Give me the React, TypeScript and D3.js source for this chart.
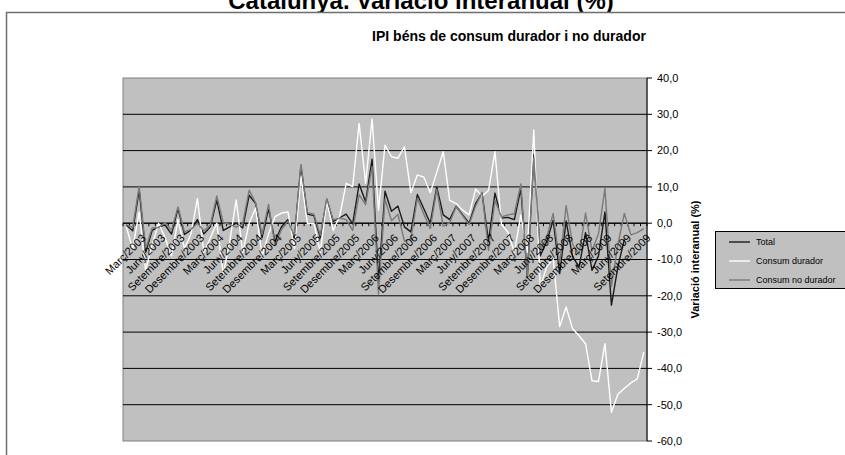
import React from "react";
import * as d3 from "d3";

const monthNames = ["Gener","Febrer","Març","Abril","Maig","Juny","Juliol","Agost","Setembre","Octubre","Novembre","Desembre"];
const categories: string[] = [];
for (let y = 2003; y <= 2009; y++) for (let m = 0; m < 12; m++) if (categories.length < 81) categories.push(`${monthNames[m]}/${y}`);

const total: (number | null)[] = [
  -0.5, -2.1, 9.1, -8, -2, -1, -0.5, -3, 4, -3.1, -1.9, 1,
  -3, -1, 6.4, -2, -1, 0, -1.3, 7.7, 5.4, -4, 4, -5,
  -1, 1, -4, 15.7, 2.5, 2.1, -4, 6.6, 0.5, 1.5, 2.5, -0.2,
  10.8, 5.9, 17.6, -16, 8.8, 3.3, 4.7, -1, -2.4, 7.9, 4, 0,
  10, 2.3, 1, 4.7, 2.3, 0, 5.4, 8.3, -5, 8.3, 1.4, 1.6,
  1.0, 9.5, -14.8, 19, -9, -5, 0.8, -13.9, 0.6, -9.3, -12, -2.6,
  -13, -9, 3.1, -22.6, -12, -4.5, null, null, null
];
const durador: number[] = [
  -1, -7, 3.1, -13, -6, 0, -4, -9, 1, -7, -3, 6.8,
  -8, -4, 0, -14, -5, 6.4, -8, 0, 4.2, -9, -3, 1.8,
  2.8, 3.1, -7, 13, 0, 0, -8, 6, -2, 2, 11, 10.1,
  27.5, 11, 28.7, 3.6, 21.5, 18.3, 17.9, 21, 8.4, 13.3, 12.7, 8.4,
  14, 19.7, 6.3, 5.4, 3.6, 2.3, 9.4, 7.4, 9.0, 19.7, -0.3, -2.5,
  -8, 2.2, -8, 25.7, -17.6, -12, -9.8, -28.5, -23.1, -29.1, -31, -33.2,
  -43.4, -43.6, -33.2, -52.1, -47.1, -45.5, -44, -42.9, -35.5
];
const noDurador: number[] = [
  -0.4, -1.2, 10.2, -7.1, -1.3, -1.2, 0.1, -1.9, 4.5, -2.4, -1.7, 0,
  -2.1, -0.5, 7.5, 0.1, -0.3, -1.1, -0.1, 9.1, 5.6, -3.1, 5.2, -6.2,
  -1.7, 0.6, -3.5, 16.2, 2.9, 2.5, -3.3, 6.7, 0.9, 1.4, 1.0, -2,
  7.9, 5.1, 15.6, -19.5, 6.6, 0.7, 2.4, -4.9, -4.3, 6.9, 2.5, -1.5,
  9.3, -0.8, 0.1, 4.6, 2.1, -0.4, 4.7, 8.5, -7.5, 6.3, 1.7, 2.3,
  2.6, 10.8, -15, 18, -7.5, -3.8, 2.7, -11.3, 4.8, -5.8, -8.6, 2.8,
  -7.6, -2.9, 9.6, -17.4, -5.8, 2.7, -3.2, -2.6, -1.5
];
const yTicks = [40, 30, 20, 10, 0, -10, -20, -30, -40, -50, -60];
const legendLabels = ["Total", "Consum durador", "Consum no durador"];

const W = 845, H = 455;
const plot = { left: 123, top: 78, right: 647, bottom: 441 };

export default function App() {
  const x = d3.scaleBand<number>().domain(d3.range(categories.length)).range([plot.left, plot.right]);
  const y = d3.scaleLinear().domain([-60, 40]).range([plot.bottom, plot.top]);
  const cx = (i: number) => (x(i) as number) + x.bandwidth() / 2;
  const line = d3.line<number | null>()
    .defined((d) => d !== null && d !== undefined)
    .x((_, i) => cx(i))
    .y((d) => y(d as number));
  const series = [
    { name: legendLabels[0], data: total, color: "#1a1a1a" },
    { name: legendLabels[1], data: durador, color: "#ffffff" },
    { name: legendLabels[2], data: noDurador, color: "#7a7a7a" },
  ];
  const fmt = (v: number) => v.toFixed(1).replace(".", ",");
  const font = "Liberation Sans, Arial, sans-serif";
  const y0 = y(0);
  return (
    <svg width={W} height={H} style={{ position: "absolute", left: 0, top: 0, background: "#fff" }} fontFamily={font}>
      <rect x={0} y={0} width={W} height={H} fill="#fff" />
      <text x={421} y={9} textAnchor="middle" fontSize={24} fontWeight="bold">Catalunya. Variació interanual (%)</text>
      <rect x={6.5} y={12.5} width={W} height={H} fill="#fff" stroke="#6e6e6e" strokeWidth={1.5} />
      <text x={509} y={41} textAnchor="middle" fontSize={14} fontWeight="bold">IPI béns de consum durador i no durador</text>
      <rect x={plot.left} y={plot.top} width={plot.right - plot.left} height={plot.bottom - plot.top} fill="#c0c0c0" stroke="#808080" strokeWidth={1} />
      {yTicks.filter((t) => t !== 40 && t !== -60).map((t) => (
        <line key={t} x1={plot.left} x2={plot.right} y1={y(t)} y2={y(t)} stroke="#000" strokeWidth={1} />
      ))}
      <line x1={plot.left} x2={plot.right} y1={y0} y2={y0} stroke="#000" strokeWidth={1} />
      {d3.range(categories.length + 1).map((i) => {
        const xx = plot.left + i * x.bandwidth();
        return <line key={i} x1={xx} x2={xx} y1={y0} y2={y0 + 3} stroke="#000" strokeWidth={1} />;
      })}
      {series.map((s) => (
        <path key={s.name} d={line(s.data as (number | null)[]) || ""} fill="none" stroke={s.color} strokeWidth={1.4} strokeLinejoin="round" />
      ))}
      {categories.map((c, i) =>
        i % 3 === 2 ? (
          <text key={c} transform={`translate(${cx(i) + 2},${y0 + 10}) rotate(-45)`} textAnchor="end" fontSize={11} dy="0.7em">{c}</text>
        ) : null
      )}
      <line x1={plot.right} x2={plot.right} y1={plot.top} y2={plot.bottom} stroke="#000" strokeWidth={1} />
      {yTicks.map((t) => (
        <g key={t}>
          <line x1={plot.right} x2={plot.right + 5} y1={y(t)} y2={y(t)} stroke="#000" />
          <text x={plot.right + 10} y={y(t)} dy="0.35em" fontSize={11}>{fmt(t)}</text>
        </g>
      ))}
      <text transform={`translate(699,${(plot.top + plot.bottom) / 2}) rotate(-90)`} textAnchor="middle" fontSize={11} fontWeight="bold">Variació interanual (%)</text>
      <rect x={715.5} y={231.5} width={140} height={57} fill="#c0c0c0" stroke="#000" strokeWidth={1} />
      {series.map((s, i) => (
        <g key={s.name}>
          <line x1={729} x2={750} y1={242 + i * 19} y2={242 + i * 19} stroke={s.color} strokeWidth={1.4} />
          <text x={756} y={242 + i * 19} dy="0.35em" fontSize={9}>{s.name}</text>
        </g>
      ))}
    </svg>
  );
}
